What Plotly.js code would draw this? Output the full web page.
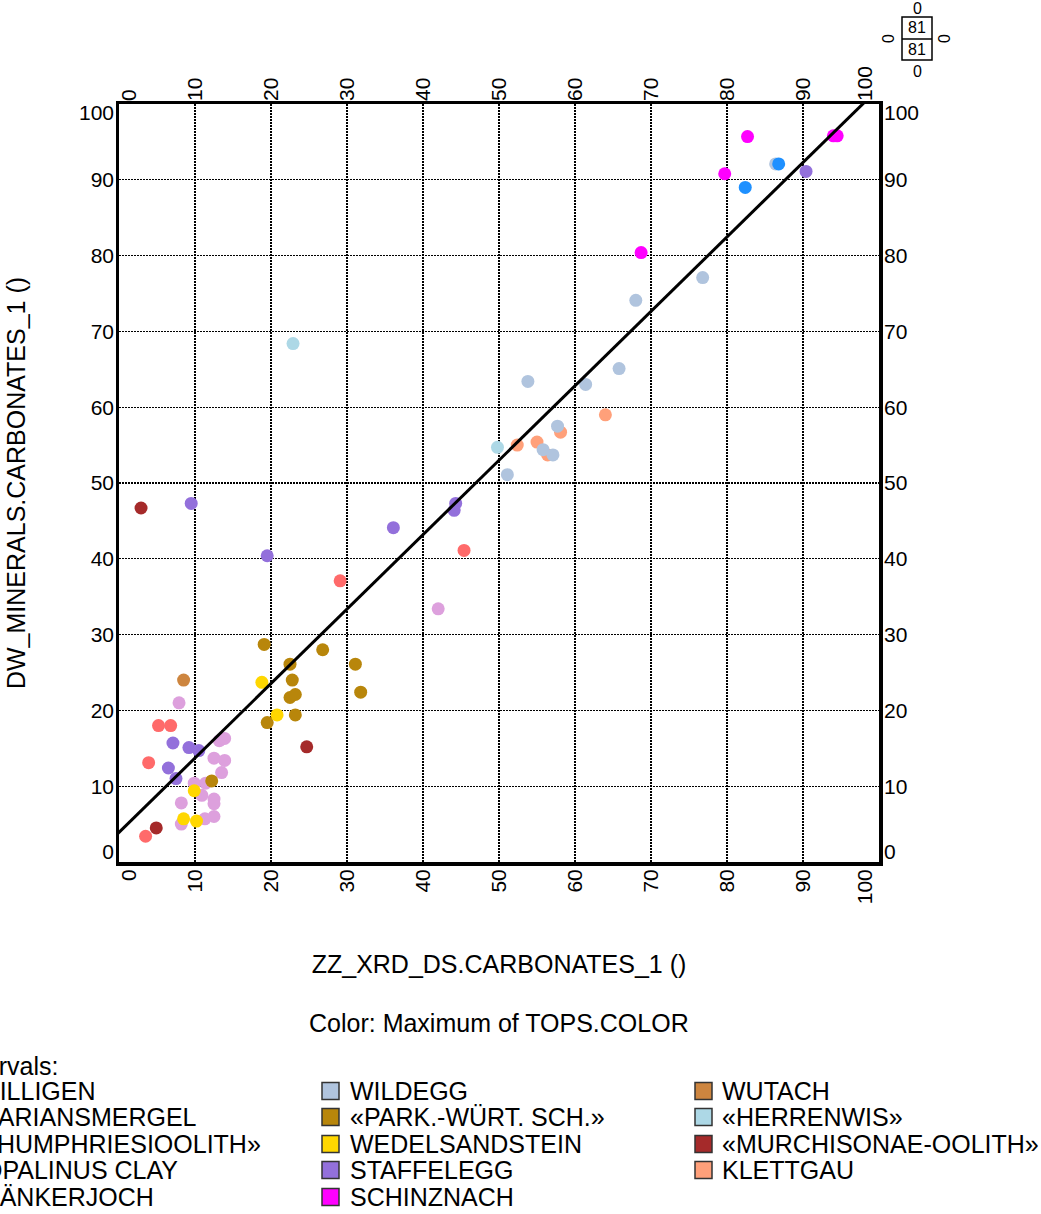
<!DOCTYPE html>
<html>
<head>
<meta charset="utf-8">
<script src="https://cdn.plot.ly/plotly-3.0.1.min.js"></script>
<style>html,body{margin:0;padding:0;background:#fff;}#chart{width:1041px;height:1214px;}</style>
</head>
<body>
<div id="chart"></div>
<script>
// ---------------- data ----------------
const schinznachX = [82.7, 79.7, 68.7, 94.0, 94.5];
const schinznachY = [95.7, 90.8, 80.4, 95.8, 95.8];
const villigenX = [82.4, 86.8];
const villigenY = [89.0, 92.1];
const wildeggX = [86.4, 76.8, 68.0, 53.8, 61.4, 65.8, 57.7, 55.8, 57.1, 51.1];
const wildeggY = [92.1, 77.1, 74.1, 63.4, 63.0, 65.1, 57.5, 54.4, 53.7, 51.1];
const staffeleggX = [90.4, 44.3, 44.1, 36.1, 9.5, 19.5, 7.1, 9.2, 10.5, 6.5, 7.5];
const staffeleggY = [91.1, 47.3, 46.4, 44.1, 47.3, 40.4, 15.7, 15.1, 14.7, 12.4, 11.0];
const klettgauX = [64.0, 58.1, 52.4, 55.0, 56.4];
const klettgauY = [59.0, 56.7, 55.0, 55.4, 53.7];
const herrenwisX = [49.8, 22.9];
const herrenwisY = [54.7, 68.4];
const baenkerjochX = [45.4, 29.1, 5.2, 6.8, 3.9, 3.5];
const baenkerjochY = [41.1, 37.1, 18.0, 18.0, 13.1, 3.4];
const murchisonaeX = [2.9, 24.7, 4.9];
const murchisonaeY = [46.7, 15.2, 4.5];
const parkWuertX = [19.1, 26.8, 22.5, 31.1, 22.8, 22.5, 23.2, 31.8, 23.2, 19.5, 12.2];
const parkWuertY = [28.7, 28.0, 26.1, 26.1, 24.0, 21.7, 22.1, 22.4, 19.4, 18.4, 10.7];
const wedelX = [18.8, 20.8, 9.9, 8.5, 10.2];
const wedelY = [23.7, 19.4, 9.4, 5.7, 5.4];
const wutachX = [8.5];
const wutachY = [24.0];
const opalinusX = [42.0, 7.9, 13.2, 13.9, 12.5, 13.9, 13.5, 9.9, 11.4, 10.9, 12.5, 12.5, 8.2, 11.3, 12.5, 8.2];
const opalinusY = [33.4, 21.0, 16.0, 16.3, 13.7, 13.4, 11.8, 10.4, 10.4, 8.8, 8.3, 7.7, 7.8, 5.7, 6.0, 5.0];

// regression line
const fitIntercept = 3.9;
const fitSlope = 0.982;

// axis ticks
const gridVals = [10, 20, 30, 40, 50, 60, 70, 80, 90];
const tickText = ['0', '10', '20', '30', '40', '50', '60', '70', '80', '90', '100'];
const xLabelPos = [1.4, 10, 20, 30, 40, 50, 60, 70, 80, 90, 98.2];
const yLabelPos = [1.4, 10, 20, 30, 40, 50, 60, 70, 80, 90, 98.9];

// statistics box
const statTop = '0', statBottom = '0', statLeft = '0', statRight = '0';
const statUpper = '81', statLower = '81';

// legend
const legendHeader = 'Intervals:';
const legendCol1 = ['VILLIGEN', 'VARIANSMERGEL', '«HUMPHRIESIOOLITH»', 'OPALINUS CLAY', 'BÄNKERJOCH'];
const legendCol1Colors = ['#1E90FF', '#8FBC8F', '#DAA520', '#DDA0DD', '#FF6A6A'];
const legendCol2 = ['WILDEGG', '«PARK.-WÜRT. SCH.»', 'WEDELSANDSTEIN', 'STAFFELEGG', 'SCHINZNACH'];
const legendCol2Colors = ['#B0C4DE', '#B8860B', '#FFD700', '#9370DB', '#FF00FF'];
const legendCol3 = ['WUTACH', '«HERRENWIS»', '«MURCHISONAE-OOLITH»', 'KLETTGAU'];
const legendCol3Colors = ['#CD853F', '#ADD8E6', '#A52A2A', '#FFA07A'];

const xTitle = 'ZZ_XRD_DS.CARBONATES_1 ()';
const yTitle = 'DW_MINERALS.CARBONATES_1 ()';
const colorNote = 'Color: Maximum of TOPS.COLOR';

// ---------------- layout geometry ----------------
const W = 1041, H = 1214;
const ML = 119, MR = 162, MT = 104, MB = 352;
const PW = W - ML - MR, PH = H - MT - MB;
const FONT = 'Liberation Sans, Arial, sans-serif';
const px = v => (v - ML) / PW;
const py = v => (H - MB - v) / PH;

const groups = [
  [opalinusX, opalinusY, '#DDA0DD'],
  [baenkerjochX, baenkerjochY, '#FF6A6A'],
  [murchisonaeX, murchisonaeY, '#A52A2A'],
  [wutachX, wutachY, '#CD853F'],
  [parkWuertX, parkWuertY, '#B8860B'],
  [wedelX, wedelY, '#FFD700'],
  [staffeleggX, staffeleggY, '#9370DB'],
  [herrenwisX, herrenwisY, '#ADD8E6'],
  [klettgauX, klettgauY, '#FFA07A'],
  [wildeggX, wildeggY, '#B0C4DE'],
  [villigenX, villigenY, '#1E90FF'],
  [schinznachX, schinznachY, '#FF00FF']
];

const traces = groups.map(g => ({
  type: 'scatter', mode: 'markers', x: g[0], y: g[1],
  marker: {color: g[2], size: 13, line: {width: 0}},
  showlegend: false, hoverinfo: 'x+y', xaxis: 'x', yaxis: 'y'
}));

const lineX = [-5, 105];
traces.push({
  type: 'scatter', mode: 'lines', x: lineX, y: lineX.map(v => fitIntercept + fitSlope * v),
  line: {color: 'black', width: 3}, showlegend: false, hoverinfo: 'skip'
});
// helper traces so the label axes are drawn
traces.push({type: 'scatter', x: [], y: [], xaxis: 'x2', yaxis: 'y2', showlegend: false, hoverinfo: 'skip'});
traces.push({type: 'scatter', x: [], y: [], xaxis: 'x3', yaxis: 'y3', showlegend: false, hoverinfo: 'skip'});

const labelAxisX = side => ({
  overlaying: 'x', side: side, range: [0, 100], tickvals: xLabelPos, ticktext: tickText,
  tickangle: -90, showgrid: false, zeroline: false, showline: false, ticks: '',
  ticklabelstandoff: 2,
  tickfont: {family: FONT, size: 21, color: 'black'}, fixedrange: true
});
const labelAxisY = side => ({
  overlaying: 'y', side: side, range: [0, 100], tickvals: yLabelPos, ticktext: tickText,
  showgrid: false, zeroline: false, showline: false, ticks: '',
  ticklabelstandoff: 4,
  tickfont: {family: FONT, size: 21, color: 'black'}, fixedrange: true
});

const annotations = [];
const shapes = [];
const ann = (text, x, y, opts) => annotations.push(Object.assign({
  text: text, x: px(x), y: py(y), xref: 'paper', yref: 'paper', showarrow: false,
  xanchor: 'center', yanchor: 'middle', font: {family: FONT, size: 25, color: 'black'}
}, opts || {}));

ann(colorNote, 499, 1023);

// statistics box
shapes.push({type: 'rect', xref: 'paper', yref: 'paper', x0: px(902), x1: px(932), y0: py(17), y1: py(60), line: {color: 'black', width: 1.5}});
shapes.push({type: 'line', xref: 'paper', yref: 'paper', x0: px(902), x1: px(932), y0: py(39), y1: py(39), line: {color: 'black', width: 1.5}});
const sf = {family: FONT, size: 16, color: 'black'};
ann(statTop, 917, 9, {font: sf});
ann(statUpper, 917, 28, {font: sf});
ann(statLower, 917, 50, {font: sf});
ann(statBottom, 917, 71, {font: sf});
ann(statLeft, 889, 39, {font: sf, textangle: -90});
ann(statRight, 945, 39, {font: sf, textangle: -90});

// legend
const rowY = [1091, 1117, 1144, 1170, 1197];
ann(legendHeader, -45, 1066, {xanchor: 'left'});
const addCol = (names, colors, sx, tx) => names.forEach((n, i) => {
  shapes.push({type: 'rect', xref: 'paper', yref: 'paper', x0: px(sx), x1: px(sx + 17),
    y0: py(rowY[i] - 8.5), y1: py(rowY[i] + 8.5), fillcolor: colors[i], line: {color: '#333', width: 1.5}});
  ann(n, tx, rowY[i], {xanchor: 'left'});
});
addCol(legendCol1, legendCol1Colors, -50, -19);
addCol(legendCol2, legendCol2Colors, 322, 348);
addCol(legendCol3, legendCol3Colors, 695, 720);

const layout = {
  width: W, height: H,
  margin: {l: ML, r: MR, t: MT, b: MB, pad: 0},
  paper_bgcolor: 'white', plot_bgcolor: 'white',
  font: {family: FONT, color: 'black'},
  xaxis: {
    range: [0, 100], tickvals: gridVals, showticklabels: false, ticks: '',
    showgrid: true, gridcolor: 'black', gridwidth: 1.2, griddash: '2px,1px',
    zeroline: false, showline: true, mirror: true, linecolor: 'black', linewidth: 3.5,
    title: {text: xTitle, font: {family: FONT, size: 25, color: 'black'}, standoff: 92},
    fixedrange: true
  },
  yaxis: {
    range: [0, 100], tickvals: gridVals, showticklabels: false, ticks: '',
    showgrid: true, gridcolor: 'black', gridwidth: 1.2, griddash: '2px,1px',
    zeroline: false, showline: true, mirror: true, linecolor: 'black', linewidth: 3.5,
    title: {text: yTitle, font: {family: FONT, size: 25, color: 'black'}, standoff: 84},
    fixedrange: true
  },
  xaxis2: labelAxisX('bottom'),
  xaxis3: labelAxisX('top'),
  yaxis2: labelAxisY('left'),
  yaxis3: labelAxisY('right'),
  showlegend: false,
  annotations: annotations,
  shapes: shapes
};
layout.xaxis2.anchor = 'y';
layout.xaxis3.anchor = 'y';
layout.yaxis2.anchor = 'x';
layout.yaxis3.anchor = 'x';

Plotly.newPlot('chart', traces, layout, {displayModeBar: false, staticPlot: true});
</script>
</body>
</html>
